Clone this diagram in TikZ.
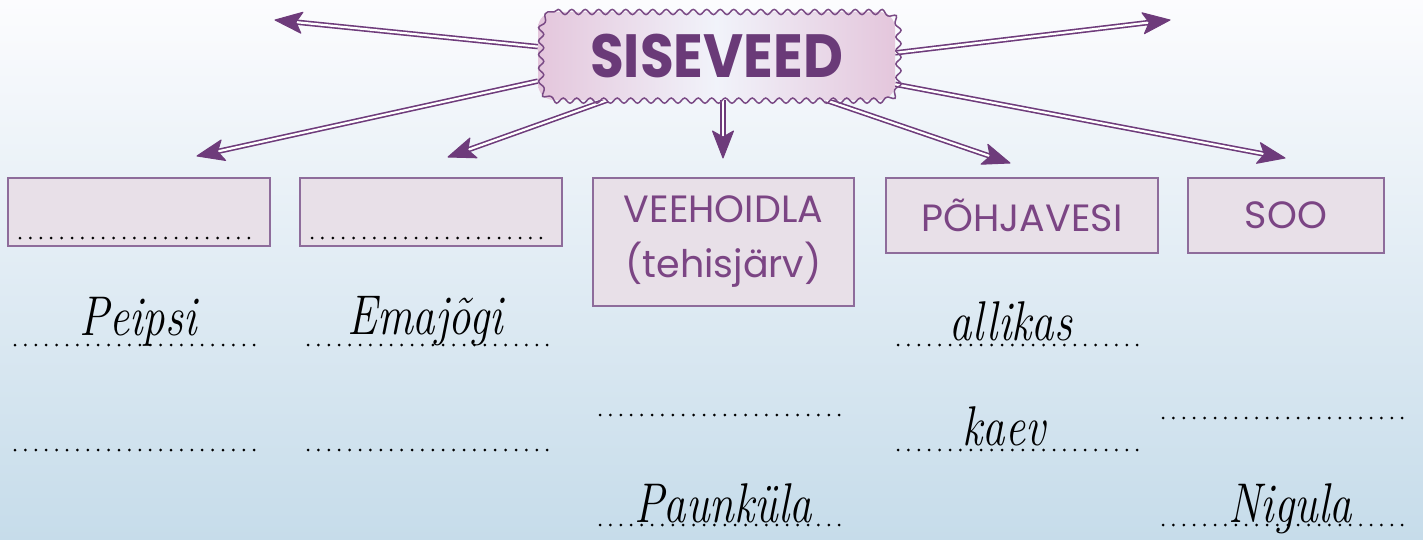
\documentclass[tikz,border=0pt]{standalone}
\usepackage{fontspec}
\usepackage{graphicx}
\usetikzlibrary{decorations.pathmorphing,calc}
\newfontfamily\popfont{Poppins}
\definecolor{bgtop}{HTML}{FCFCFE}
\definecolor{bgbot}{HTML}{C6DCEA}
\definecolor{arrc}{HTML}{6E3B7B}
\definecolor{boxfill}{HTML}{E8E0E8}
\definecolor{boxline}{HTML}{8E6C9B}
\definecolor{boxtext}{HTML}{7B4584}
\definecolor{cloudline}{HTML}{7A4A85}
\definecolor{cloudpink}{HTML}{E4C6DC}
\definecolor{cloudmid}{HTML}{F1F3FA}
\definecolor{titlec}{HTML}{6A3A78}
\newcommand\hw[1]{\scalebox{0.8}[1]{\fontsize{56}{60}\selectfont\itshape #1}}
% #1 start, #2 tip coordinate name
\newcommand\dblarrow[2]{%
  \coordinate (#2b) at ($(#2)!27pt!(#1)$);
  \coordinate (#2n) at ($(#2)!21pt!(#1)$);
  \coordinate (#2l) at ($(#2b)!10.5pt!90:(#2)$);
  \coordinate (#2r) at ($(#2b)!10.5pt!-90:(#2)$);
  \draw[shaft] (#1) -- (#2n);
  \filldraw[fill=arrc, draw=arrc, line width=1pt, line join=round] (#2) -- (#2l) -- (#2n) -- (#2r) -- cycle;}
\begin{document}
\begin{tikzpicture}[x=1pt,y=1pt,
  shaft/.style={draw=arrc, line width=1.6pt, double=white, double distance=2.2pt},
  wavy/.style={draw=cloudline, line width=1.5pt, decorate,
    decoration={snake,segment length=13.5pt,amplitude=2.6pt}},
  titlenode/.style={minimum width=357pt, minimum height=88pt, inner sep=0pt,
    text=titlec, font=\popfont\bfseries\fontsize{61}{64}\selectfont},
  catbox/.style={draw=boxline, line width=1.2pt, fill=boxfill, inner sep=0pt,
    text=boxtext, align=center, font=\popfont\fontsize{38}{55}\selectfont},
  dots/.style={draw=black, line width=3pt, line cap=round, dash pattern=on 0pt off 10.4pt},
  hand/.style={anchor=base, inner sep=0pt, text=black}]
\useasboundingbox (0,0) rectangle (1423,-540);
\fill[top color=bgtop, bottom color=bgbot] (0,0) rectangle (1423,-540);

% category boxes
\node[catbox, minimum width=262pt, minimum height=68pt] (b1) at (139,-212) {};
\node[catbox, minimum width=262pt, minimum height=68pt] (b2) at (431,-212) {};
\node[catbox, minimum width=261pt, minimum height=128pt] (b3) at (723.5,-242) {VEEHOIDLA\\(tehisjärv)};
\node[catbox, minimum width=272pt, minimum height=75pt] (b4) at (1022,-215.5) {PÕHJAVESI};
\node[catbox, minimum width=196pt, minimum height=75pt] (b5) at (1286,-215.5) {SOO};
\draw[dots] (20,-238) -- (256,-238);
\draw[dots] (312,-238) -- (548,-238);

% arrow targets
\coordinate (ta) at (275,-20);
\coordinate (tb) at (197,-156);
\coordinate (tc) at (448,-157);
\coordinate (td) at (723,-158);
\coordinate (te) at (1010,-163);
\coordinate (tf) at (1285,-158);
\coordinate (tg) at (1170,-20);

% title cloud
\node[titlenode] (sis) at (716.5,-56) {};
\dblarrow{sis.177}{ta}
\dblarrow{sis.188.5}{tb}
\dblarrow{sis.202.5}{tc}
\dblarrow{sis.south -| td}{td}
\dblarrow{sis.338.9}{te}
\dblarrow{sis.351.6}{tf}
\dblarrow{sis.1.9}{tg}
\shade[left color=cloudpink, right color=cloudpink, middle color=cloudmid, rounded corners=16pt]
  (538,-12) rectangle (895,-100);
\draw[wavy] (554,-12) -- (879,-12) arc[start angle=90, end angle=0, radius=16pt]
  -- (895,-84) arc[start angle=0, end angle=-90, radius=16pt]
  -- (554,-100) arc[start angle=270, end angle=180, radius=16pt]
  -- (538,-28) arc[start angle=180, end angle=90, radius=16pt] -- cycle;
\node[titlenode] (title) at (sis) {\scalebox{0.9}[1]{SISEVEED}};

% answer lines
\draw[dots] (15,-345) -- (262,-345);
\draw[dots] (308,-345) -- (555,-345);
\draw[dots] (898,-345) -- (1145,-345);
\draw[dots] (15,-450) -- (262,-450);
\draw[dots] (308,-450) -- (555,-450);
\draw[dots] (898,-450) -- (1145,-450);
\draw[dots] (600,-415) -- (847,-415);
\draw[dots] (1163,-418) -- (1410,-418);
\draw[dots] (600,-525) -- (847,-525);
\draw[dots] (1163,-525) -- (1410,-525);

% handwritten answers
\node[hand] (peipsi) at (138,-335) {\hw{Peipsi}};
\node[hand] (emajogi) at (425,-334) {\hw{Emajõgi}};
\node[hand] (allikas) at (1011,-340) {\hw{allikas}};
\node[hand] (kaev) at (1004,-445) {\hw{kaev}};
\node[hand] (paunkula) at (723,-522) {\hw{Paunküla}};
\node[hand] (nigula) at (1290,-522) {\hw{Nigula}};
\end{tikzpicture}
\end{document}
